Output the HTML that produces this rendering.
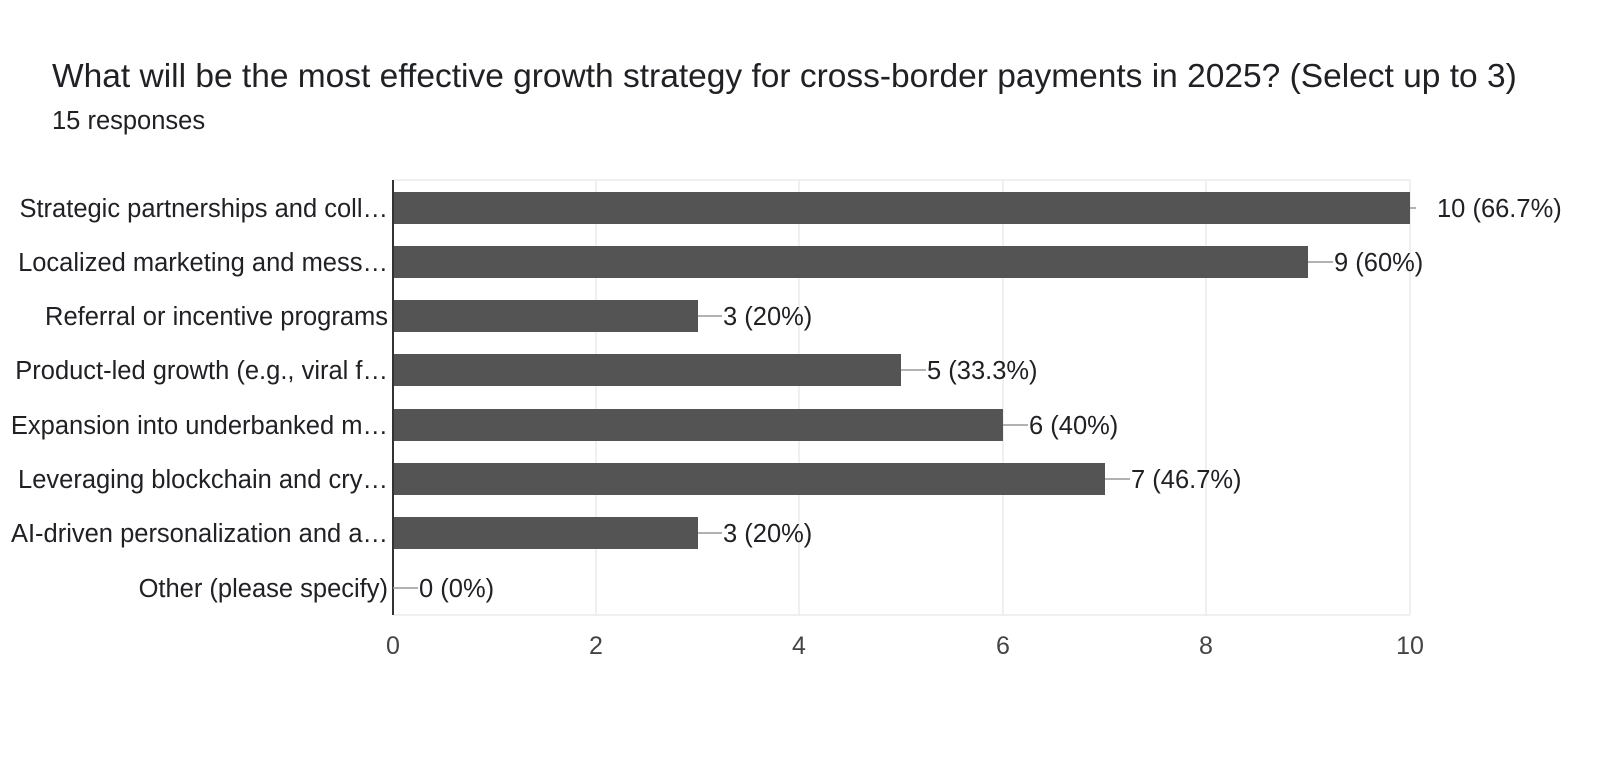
<!DOCTYPE html>
<html><head><meta charset="utf-8"><style>
html,body{margin:0;padding:0;background:#fff;}
svg{display:block;font-family:"Liberation Sans",Arial,sans-serif;}
</style></head><body>
<svg width="1600" height="761" viewBox="0 0 1600 761" xmlns="http://www.w3.org/2000/svg">
<rect width="1600" height="761" fill="#fff"/>
<text x="52" y="87" font-size="33.5" fill="#202124">What will be the most effective growth strategy for cross-border payments in 2025? (Select up to 3)</text>
<text x="52" y="129" font-size="25.5" fill="#202124">15 responses</text>
<g stroke="#ebebeb" stroke-width="1.5">
<line x1="393" y1="180" x2="1410" y2="180"/>
<line x1="596" y1="180" x2="596" y2="615"/>
<line x1="799" y1="180" x2="799" y2="615"/>
<line x1="1003" y1="180" x2="1003" y2="615"/>
<line x1="1206" y1="180" x2="1206" y2="615"/>
<line x1="1410" y1="180" x2="1410" y2="615"/>
<line x1="393" y1="615" x2="1410" y2="615"/>
</g>
<g fill="#545454">
<rect x="393" y="192" width="1017" height="32"/>
<rect x="393" y="246" width="915" height="32"/>
<rect x="393" y="300" width="305" height="32"/>
<rect x="393" y="354" width="508" height="32"/>
<rect x="393" y="409" width="610" height="32"/>
<rect x="393" y="463" width="712" height="32"/>
<rect x="393" y="517" width="305" height="32"/>
</g>
<line x1="393" y1="180" x2="393" y2="615" stroke="#333" stroke-width="2"/>
<g stroke="#999" stroke-width="1.5">
<line x1="1410" y1="208" x2="1416" y2="208"/>
<line x1="1308" y1="262" x2="1333" y2="262"/>
<line x1="698" y1="316" x2="722" y2="316"/>
<line x1="901" y1="370" x2="926" y2="370"/>
<line x1="1003" y1="425" x2="1028" y2="425"/>
<line x1="1105" y1="479" x2="1130" y2="479"/>
<line x1="698" y1="533" x2="722" y2="533"/>
<line x1="393" y1="588" x2="418" y2="588"/>
</g>
<g font-size="25.5" fill="#202124">
<text x="1437" y="217">10 (66.7%)</text>
<text x="1334" y="271">9 (60%)</text>
<text x="723" y="325">3 (20%)</text>
<text x="927" y="379">5 (33.3%)</text>
<text x="1029" y="434">6 (40%)</text>
<text x="1131" y="488">7 (46.7%)</text>
<text x="723" y="542">3 (20%)</text>
<text x="419" y="597">0 (0%)</text>
</g>
<g font-size="25.5" fill="#202124" text-anchor="end">
<text x="388" y="217">Strategic partnerships and coll…</text>
<text x="388" y="271">Localized marketing and mess…</text>
<text x="388" y="325">Referral or incentive programs</text>
<text x="388" y="379">Product-led growth (e.g., viral f…</text>
<text x="388" y="434">Expansion into underbanked m…</text>
<text x="388" y="488">Leveraging blockchain and cry…</text>
<text x="388" y="542">AI-driven personalization and a…</text>
<text x="388" y="597">Other (please specify)</text>
</g>
<g font-size="25" fill="#444" text-anchor="middle">
<text x="393" y="654">0</text>
<text x="596" y="654">2</text>
<text x="799" y="654">4</text>
<text x="1003" y="654">6</text>
<text x="1206" y="654">8</text>
<text x="1410" y="654">10</text>
</g>
</svg>
</body></html>
